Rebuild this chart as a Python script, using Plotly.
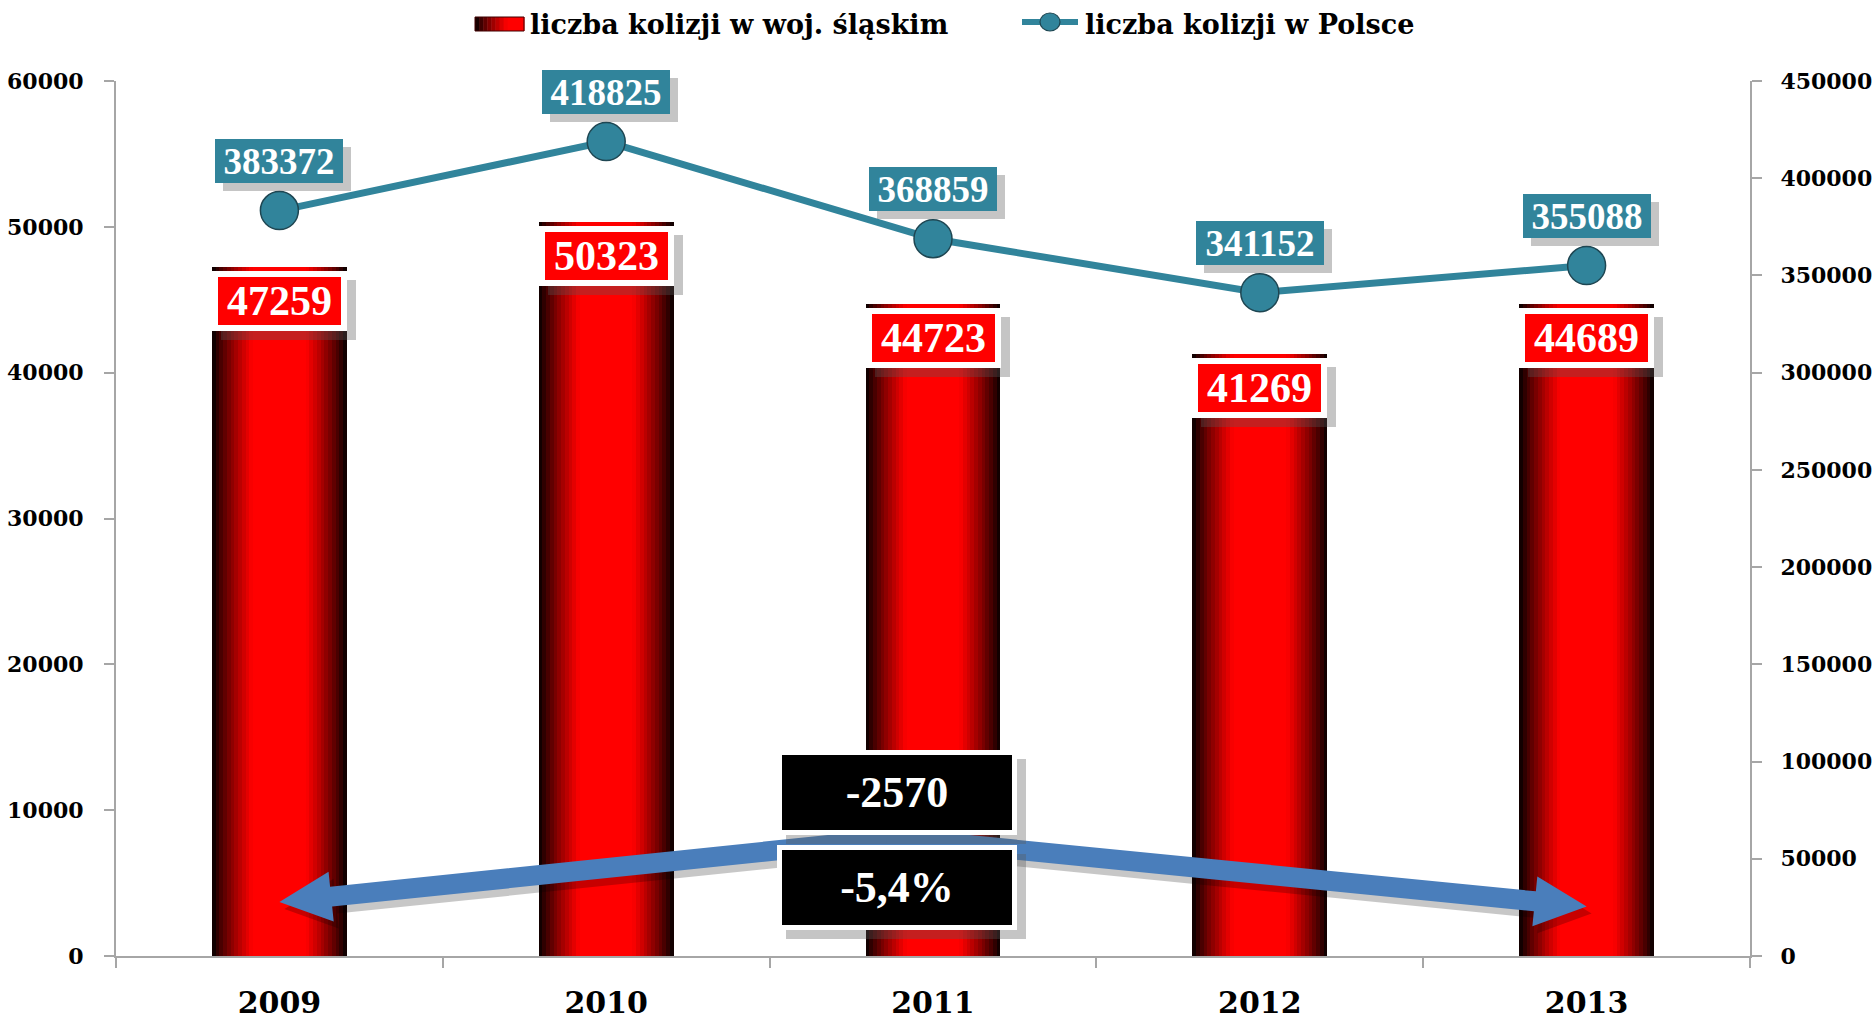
import numpy as np
import plotly.graph_objects as go

# data
YEARS = ["2009", "2010", "2011", "2012", "2013"]
SLASKIE = [47259, 50323, 44723, 41269, 44689]
POLSKA = [383372, 418825, 368859, 341152, 355088]

NAME_BAR = "liczba kolizji w woj. śląskim"
NAME_LINE = "liczba kolizji w Polsce"

# layout constants
W, H = 1873, 1020
M_L, M_R, M_T, M_B = 116, 123, 81, 64
PLOT_W = W - M_L - M_R
PLOT_H = H - M_T - M_B
Y1_MAX, Y2_MAX = 60000, 450000
X_RANGE = (-0.5, len(YEARS) - 0.5)

TEAL = "#31849B"
SERIF = "Liberation Serif"
WIDE_SERIF = "DejaVu Serif"
BAR_W = 0.413
N_LAYERS = 18


def to_px(x, y):
    """data (x index, left-axis value) -> page pixels"""
    px = M_L + (x - X_RANGE[0]) / (X_RANGE[1] - X_RANGE[0]) * PLOT_W
    py = M_T + PLOT_H - y / Y1_MAX * PLOT_H
    return np.array([px, py])


def to_data(p):
    x = (p[0] - M_L) / PLOT_W * (X_RANGE[1] - X_RANGE[0]) + X_RANGE[0]
    y = (M_T + PLOT_H - p[1]) / PLOT_H * Y1_MAX
    return x, y


def to_paper(px, py):
    return (px - M_L) / PLOT_W, (M_T + PLOT_H - py) / PLOT_H


def red_ramp(t, full_at=0.6):
    r = int(255 * min(1.0, t / full_at) ** 0.85)
    return f"rgb({r},0,0)"


def arrow_path(start, tip, half=10, head_len=52, head_half=25, offset=(0, 0)):
    """polygon of a single block arrow from start to tip, built in pixels"""
    p0 = to_px(*start) + np.array(offset)
    p1 = to_px(*tip) + np.array(offset)
    d = (p1 - p0) / np.linalg.norm(p1 - p0)
    n = np.array([-d[1], d[0]])
    base = p1 - d * head_len
    pts = [p0 + n * half - d * half, base + n * half, base + n * head_half, p1,
           base - n * head_half, base - n * half, p0 - n * half - d * half]
    path = ""
    for i, p in enumerate(pts):
        x, y = to_data(p)
        path += ("M" if i == 0 else "L") + f"{x:.4f},{y:.2f} "
    return path + "Z"


fig = go.Figure()
x_idx = list(range(len(YEARS)))

# cylinder-like bars: overlaid layers, dark at the edge -> red in the middle
for k in range(N_LAYERS):
    fig.add_trace(go.Bar(
        x=x_idx, y=SLASKIE,
        width=BAR_W * (1 - k / N_LAYERS),
        marker=dict(color=red_ramp((k + 0.5) / N_LAYERS), line=dict(width=0)),
        name=NAME_BAR,
        showlegend=False,
        hoverinfo="skip" if k < N_LAYERS - 1 else None,
    ))

fig.add_trace(go.Scatter(
    x=x_idx, y=POLSKA, yaxis="y2",
    mode="lines+markers",
    name=NAME_LINE,
    showlegend=False,
    line=dict(color=TEAL, width=7),
    marker=dict(size=38, color=TEAL, line=dict(color="#1E4652", width=1.5)),
))

annotations = []
shapes = []


def boxed(x, y, yref, text, bg, font_size, w, h, border, yshift=0, shadow=8):
    # shadow first, then the box itself
    annotations.append(dict(
        x=x, y=y, xref="x", yref=yref, text=text, showarrow=False,
        font=dict(family=SERIF, size=font_size, color="rgba(0,0,0,0)"),
        bgcolor="rgba(90,90,90,0.35)", width=w + 2 * border, height=h + 2 * border,
        borderpad=2, borderwidth=0, xshift=shadow, yshift=yshift - shadow,
    ))
    annotations.append(dict(
        x=x, y=y, xref="x", yref=yref, text=text, showarrow=False,
        font=dict(family=SERIF, size=font_size, color="white", weight="bold"),
        bgcolor=bg, bordercolor="white", borderwidth=border,
        width=w, height=h, borderpad=2, yshift=yshift,
    ))


for i, v in enumerate(SLASKIE):
    boxed(i, v, "y", str(v), "#FF0000", 42, 119, 44, 6, yshift=-34, shadow=9)
for i, v in enumerate(POLSKA):
    boxed(i, v, "y2", str(v), TEAL, 37, 124, 40, 0, yshift=50, shadow=8)

# change between first and last year
diff = SLASKIE[-1] - SLASKIE[0]
pct = diff / SLASKIE[0] * 100
diff_txt = f"{diff}"
pct_txt = f"{pct:.1f}%".replace(".", ",")

BOX_X = 1.89
PEAK = (BOX_X, 8100)
LEFT_TIP = (0, 3700)
RIGHT_TIP = (4, 3400)

for off, col in [((5, 7), "rgba(0,0,0,0.22)"), ((0, 0), "#4A7EBB")]:
    for tip in (LEFT_TIP, RIGHT_TIP):
        shapes.append(dict(type="path", path=arrow_path(PEAK, tip, offset=off),
                           xref="x", yref="y", fillcolor=col, line=dict(width=0),
                           layer="above"))

boxed(BOX_X, 11210, "y", diff_txt, "black", 44, 226, 71, 5, shadow=9)
boxed(BOX_X, 4700, "y", pct_txt, "black", 44, 226, 71, 5, shadow=9)

# legend drawn by hand (gradient swatch + line/marker symbol)
legend_font = dict(family=WIDE_SERIF, size=27, color="black", weight="bold")
LEG_Y = 25
sw_x0, sw_x1, sw_y0, sw_y1 = 475, 524, 17, 31
n_sw = 12
for k in range(n_sw):
    a, _ = to_paper(sw_x0 + (sw_x1 - sw_x0) * k / n_sw, 0)
    b, _ = to_paper(sw_x0 + (sw_x1 - sw_x0) * (k + 1) / n_sw + 0.5, 0)
    _, ya = to_paper(0, sw_y1)
    _, yb = to_paper(0, sw_y0)
    shapes.append(dict(type="rect", xref="paper", yref="paper", x0=a, x1=b, y0=ya, y1=yb,
                       fillcolor=red_ramp((k + 0.5) / n_sw, 0.65), line=dict(width=0)))
xa, ya = to_paper(sw_x0, sw_y1)
xb, yb = to_paper(sw_x1, sw_y0)
shapes.append(dict(type="rect", xref="paper", yref="paper", x0=xa, x1=xb, y0=ya, y1=yb,
                   line=dict(color="#400000", width=1)))
tx, ty = to_paper(528, LEG_Y)
annotations.append(dict(x=tx, y=ty, xref="paper", yref="paper", text=NAME_BAR, showarrow=False,
                        xanchor="left", yanchor="middle", font=legend_font))

l0, ly = to_paper(1022, 22)
l1, _ = to_paper(1078, 22)
shapes.append(dict(type="line", xref="paper", yref="paper", x0=l0, x1=l1, y0=ly, y1=ly,
                   line=dict(color=TEAL, width=6)))
c0, cy0 = to_paper(1040, 31)
c1, cy1 = to_paper(1060, 13)
shapes.append(dict(type="circle", xref="paper", yref="paper", x0=c0, x1=c1, y0=cy0, y1=cy1,
                   fillcolor=TEAL, line=dict(color="#1E4652", width=1.2)))
tx, ty = to_paper(1083, LEG_Y)
annotations.append(dict(x=tx, y=ty, xref="paper", yref="paper", text=NAME_LINE, showarrow=False,
                        xanchor="left", yanchor="middle", font=legend_font))

axis_col = "#A6A6A6"
tick_font = dict(family=WIDE_SERIF, size=22, color="black", weight="bold")

fig.update_layout(
    width=W, height=H,
    margin=dict(l=M_L, r=M_R, t=M_T, b=M_B, autoexpand=False),
    paper_bgcolor="white", plot_bgcolor="white",
    barmode="overlay", bargap=0,
    showlegend=False,
    xaxis=dict(range=list(X_RANGE), tickvals=x_idx, ticktext=YEARS, ticks="",
               showline=True, linecolor=axis_col, linewidth=2, showgrid=False, zeroline=False,
               tickfont=dict(family=WIDE_SERIF, size=30, color="black", weight="bold"),
               ticklabelstandoff=19, automargin=False,
               minor=dict(tick0=0.5, dtick=1, ticks="outside", ticklen=10,
                          tickcolor=axis_col, tickwidth=1.5, showgrid=False)),
    yaxis=dict(range=[0, Y1_MAX], dtick=10000, tickformat="d", showline=True,
               linecolor=axis_col, linewidth=2, automargin=False,
               ticks="outside", ticklen=10, tickcolor=axis_col, tickwidth=1.5,
               showgrid=False, zeroline=False, tickfont=tick_font, ticklabelstandoff=16),
    yaxis2=dict(range=[0, Y2_MAX], dtick=50000, tickformat="d", overlaying="y", side="right",
                showline=True, linecolor=axis_col, linewidth=2, automargin=False,
                ticks="outside", ticklen=10, tickcolor=axis_col, tickwidth=1.5,
                showgrid=False, zeroline=False, tickfont=tick_font, ticklabelstandoff=14),
    annotations=annotations,
    shapes=shapes,
)

# the page's default 8px body margin would push the 1873x1020 figure off-screen
fig.write_html("out.html", config={"displayModeBar": False},
               post_script="document.body.style.margin='0';"
                           "document.body.style.overflow='hidden';")
